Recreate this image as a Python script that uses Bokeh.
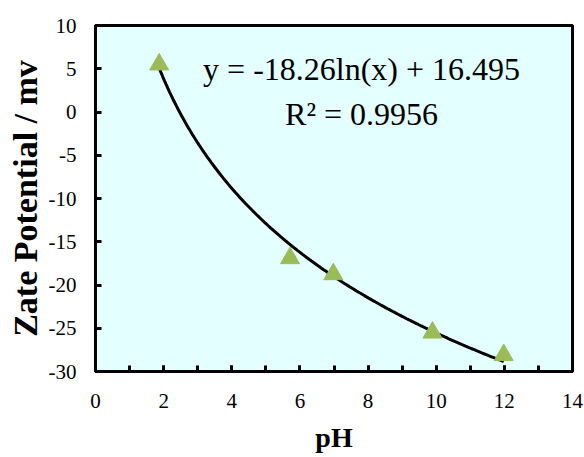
import numpy as np
from bokeh.plotting import figure
from bokeh.models import Label, SingleIntervalTicker, PrintfTickFormatter
from bokeh.embed import file_html
from bokeh.resources import INLINE

# data
ph = [1.87, 5.71, 6.98, 9.89, 11.98]
zeta = [5.5, -16.9, -18.75, -25.5, -28.1]

# logarithmic trendline shown on the chart: y = a*ln(x) + b
fit_a = -18.26
fit_b = 16.495
eq_text = "y = -18.26ln(x) + 16.495"
r2_text = "R² = 0.9956"

FONT = "Liberation Serif"

p = figure(width=584, height=457, x_range=(0, 14), y_range=(-30, 10),
           output_backend="svg", toolbar_location=None,
           min_border_left=95, min_border_right=12, min_border_top=25,
           min_border_bottom=86)

p.background_fill_color = "#E3FFFF"
p.border_fill_color = "white"
p.xgrid.visible = False
p.ygrid.visible = False
p.outline_line_color = "black"
p.outline_line_width = 3

p.xaxis.ticker = SingleIntervalTicker(interval=2, num_minor_ticks=2)
p.yaxis.ticker = SingleIntervalTicker(interval=5, num_minor_ticks=0)

for ax in (p.xaxis[0], p.yaxis[0]):
    ax.formatter = PrintfTickFormatter(format="%d")
    ax.axis_line_width = 3
    ax.axis_line_color = "black"
    ax.major_tick_in = 6
    ax.major_tick_out = 0
    ax.major_tick_line_width = 3
    ax.minor_tick_in = 6
    ax.minor_tick_out = 0
    ax.minor_tick_line_width = 3
    ax.major_label_text_font = FONT
    ax.major_label_text_font_size = "21px"
    ax.major_label_text_color = "black"
    ax.axis_label_text_font = FONT
    ax.axis_label_text_font_style = "bold"
    ax.axis_label_text_color = "black"

p.xaxis.axis_label = "pH"
p.xaxis.axis_label_text_font_size = "28px"
p.xaxis.major_label_standoff = 22
p.xaxis.axis_label_standoff = 11

p.yaxis.axis_label = "Zate Potential / mv"
p.yaxis.axis_label_text_font_size = "34px"
p.yaxis.major_label_standoff = 19
p.yaxis.axis_label_standoff = 2

# trendline
x_fit = np.linspace(min(ph), max(ph), 200)
y_fit = fit_a * np.log(x_fit) + fit_b
p.line(x_fit, y_fit, line_color="black", line_width=3)

p.scatter(ph, zeta, marker="triangle", size=19, fill_color="#9BBB59",
          line_color="#9BBB59")

p.add_layout(Label(x=7.81, y=5.0, text=eq_text, text_align="center",
                   text_baseline="alphabetic", text_font=FONT,
                   text_font_size="32px", text_color="black"))
p.add_layout(Label(x=7.81, y=-0.2, text=r2_text, text_align="center",
                   text_baseline="alphabetic", text_font=FONT,
                   text_font_size="32px", text_color="black"))

open("out.html", "w").write(file_html(p, INLINE))
